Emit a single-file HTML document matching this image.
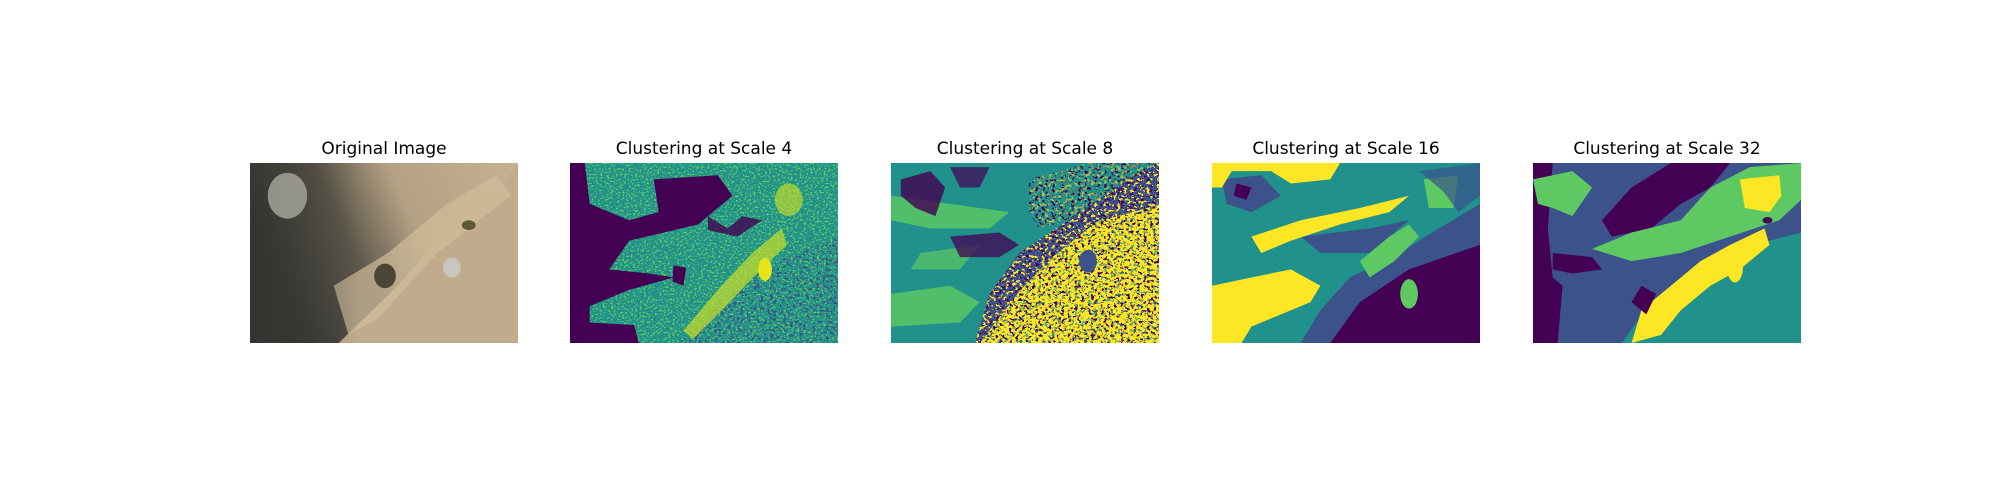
<!DOCTYPE html>
<html><head><meta charset="utf-8"><style>
body{margin:0;background:#fff;width:2000px;height:500px;overflow:hidden;font-family:"Liberation Sans","DejaVu Sans",sans-serif}
.t{position:absolute;top:139px;width:268px;text-align:center;font-size:17px;color:#000;font-family:"DejaVu Sans","Liberation Sans",sans-serif}
svg.p{position:absolute;top:163px;width:268px;height:180px}
</style></head><body>
<svg width="0" height="0" style="position:absolute"><defs>
<filter id="sa" x="0" y="0" width="1" height="1"><feTurbulence type="fractalNoise" baseFrequency="0.45" numOctaves="2" seed="5" result="t"/><feColorMatrix in="t" type="matrix" values="0 0 0 0 0 0 0 0 0 0 0 0 0 0 0 1 0 0 0 0" result="a"/><feComponentTransfer in="a" result="b"><feFuncA type="discrete" tableValues="0 0 0 1 1"/></feComponentTransfer><feComposite in="SourceGraphic" in2="b" operator="in"/></filter>
<filter id="sb" x="0" y="0" width="1" height="1"><feTurbulence type="fractalNoise" baseFrequency="0.5" numOctaves="2" seed="11" result="t"/><feColorMatrix in="t" type="matrix" values="0 0 0 0 0 0 0 0 0 0 0 0 0 0 0 1 0 0 0 0" result="a"/><feComponentTransfer in="a" result="b"><feFuncA type="discrete" tableValues="0 0 0 0 1"/></feComponentTransfer><feComposite in="SourceGraphic" in2="b" operator="in"/></filter>
<filter id="sc" x="0" y="0" width="1" height="1"><feTurbulence type="fractalNoise" baseFrequency="0.4" numOctaves="2" seed="23" result="t"/><feColorMatrix in="t" type="matrix" values="0 0 0 0 0 0 0 0 0 0 0 0 0 0 0 1 0 0 0 0" result="a"/><feComponentTransfer in="a" result="b"><feFuncA type="discrete" tableValues="1 0 0 0 0"/></feComponentTransfer><feComposite in="SourceGraphic" in2="b" operator="in"/></filter>
<filter id="sd" x="0" y="0" width="1" height="1"><feTurbulence type="fractalNoise" baseFrequency="0.3" numOctaves="2" seed="31" result="t"/><feColorMatrix in="t" type="matrix" values="0 0 0 0 0 0 0 0 0 0 0 0 0 0 0 1 0 0 0 0" result="a"/><feComponentTransfer in="a" result="b"><feFuncA type="discrete" tableValues="0 0 0 0 0 0 1 1 1 1"/></feComponentTransfer><feComposite in="SourceGraphic" in2="b" operator="in"/></filter>
<filter id="se" x="0" y="0" width="1" height="1"><feTurbulence type="fractalNoise" baseFrequency="0.3" numOctaves="2" seed="47" result="t"/><feColorMatrix in="t" type="matrix" values="0 0 0 0 0 0 0 0 0 0 0 0 0 0 0 1 0 0 0 0" result="a"/><feComponentTransfer in="a" result="b"><feFuncA type="discrete" tableValues="1 1 1 1 0 0 0 0 0 0"/></feComponentTransfer><feComposite in="SourceGraphic" in2="b" operator="in"/></filter>
</defs></svg>

<div class="t" style="left:250px">Original Image</div>
<svg class="p" style="left:250px" viewBox="0 0 272 220" preserveAspectRatio="none">
<defs><linearGradient id="g1" x1="0" y1="0.3" x2="1" y2="0"><stop offset="0" stop-color="#3c3b37"/><stop offset="0.3" stop-color="#5d574b"/><stop offset="0.55" stop-color="#b4a183"/><stop offset="1" stop-color="#c4b293"/></linearGradient>
<linearGradient id="g2" x1="0" y1="0" x2="1" y2="0"><stop offset="0" stop-color="#2e2f2d" stop-opacity="0.6"/><stop offset="1" stop-color="#2e2f2d" stop-opacity="0"/></linearGradient></defs>
<rect width="272" height="220" fill="url(#g1)"/>
<polygon points="90,220 150,150 200,80 260,20 272,0 272,220" fill="#c0ac8d"/>
<polygon points="85,150 140,110 200,50 250,15 265,40 190,110 130,190 100,210" fill="#d0bd9b" opacity="0.7"/>
<rect x="0" y="0" width="110" height="220" fill="url(#g2)"/>
<ellipse cx="38" cy="40" rx="20" ry="28" fill="#a9a7a0" opacity="0.8"/>
<ellipse cx="205" cy="128" rx="9" ry="12" fill="#c9c6c0"/>
<ellipse cx="137" cy="138" rx="11" ry="15" fill="#4a4536"/>
<ellipse cx="222" cy="76" rx="7" ry="6" fill="#5d5a33"/>
</svg>

<div class="t" style="left:570px">Clustering at Scale 4</div>
<svg class="p" style="left:570px" viewBox="0 0 272 220" preserveAspectRatio="none">
<rect width="272" height="220" fill="#21918c"/>
<rect width="272" height="220" fill="#5ec962" filter="url(#sa)"/>
<polygon points="110,220 190,130 272,90 272,220" fill="#3b528b" filter="url(#sd)"/>
<rect width="272" height="220" fill="#3b528b" filter="url(#sb)" opacity="0.6"/>
<path d="M0,0 H15 L20,50 L60,70 L90,60 L85,20 L150,15 L165,40 L130,75 L60,95 L40,130 L80,135 L105,140 L60,155 L20,175 L20,195 L65,198 L70,220 L0,220 Z" fill="#440154"/>
<path d="M140,65 L160,80 L175,65 L195,70 L170,90 L140,82Z" fill="#440154" opacity="0.8"/>
<path d="M115,205 L150,155 L185,110 L215,80 L220,100 L190,135 L150,185 L125,215Z" fill="#c9df27" opacity="0.7"/>
<ellipse cx="222" cy="45" rx="14" ry="20" fill="#d7e31f" opacity="0.6"/>
<ellipse cx="198" cy="130" rx="7" ry="14" fill="#e7e419"/>
<path d="M105,125 L118,128 L115,150 L104,145Z" fill="#440154"/>
</svg>

<div class="t" style="left:891px">Clustering at Scale 8</div>
<svg class="p" style="left:891px" viewBox="0 0 272 220" preserveAspectRatio="none">
<defs><clipPath id="cy"><polygon points="90,220 131,156 165,114 209,72 272,51 272,220"/></clipPath>
<clipPath id="cn"><polygon points="85,220 100,160 130,110 180,70 240,20 272,0 272,60 209,72 165,114 131,156 100,220"/></clipPath>
<clipPath id="ct"><polygon points="140,20 200,0 272,0 272,10 240,20 180,70 150,80 140,60"/></clipPath></defs>
<rect width="272" height="220" fill="#21918c"/>
<path d="M0,40 L60,50 L120,60 L100,80 L40,80 L0,70Z" fill="#5ec962" opacity="0.8"/>
<path d="M0,160 L60,150 L90,170 L70,195 L0,200Z" fill="#5ec962" opacity="0.8"/>
<path d="M30,110 L90,100 L70,130 L20,130Z" fill="#5ec962" opacity="0.7"/>
<path d="M10,20 L40,10 L55,30 L45,65 L25,55 L10,40Z" fill="#440154" opacity="0.8"/>
<path d="M60,5 L100,5 L90,30 L70,30Z" fill="#440154" opacity="0.7"/>
<path d="M60,90 L110,85 L130,100 L110,115 L70,115Z" fill="#440154" opacity="0.75"/>
<g clip-path="url(#ct)"><rect width="272" height="220" fill="#440154" filter="url(#sd)"/><rect width="272" height="220" fill="#fde725" filter="url(#se)" opacity="0.6"/></g>
<g clip-path="url(#cn)"><rect width="272" height="220" fill="#3b528b"/><rect width="272" height="220" fill="#440154" filter="url(#sd)"/><rect width="272" height="220" fill="#fde725" filter="url(#se)"/></g>
<g clip-path="url(#cy)"><rect width="272" height="220" fill="#fde725"/><rect width="272" height="220" fill="#440154" filter="url(#sd)"/><rect width="272" height="220" fill="#21918c" filter="url(#se)" opacity="0.7"/></g>
<ellipse cx="200" cy="120" rx="9" ry="14" fill="#3b528b"/>
</svg>

<div class="t" style="left:1212px">Clustering at Scale 16</div>
<svg class="p" style="left:1212px" viewBox="0 0 272 220" preserveAspectRatio="none">
<rect width="272" height="220" fill="#21918c"/>
<path d="M90,220 L110,180 L140,140 L190,110 L230,80 L272,50 L272,220Z" fill="#3b528b"/>
<path d="M120,220 L150,170 L200,130 L272,100 L272,220Z" fill="#440154"/>
<path d="M10,20 L50,15 L70,40 L40,60 L15,50Z" fill="#3b528b"/>
<path d="M25,25 L40,30 L35,45 L22,40Z" fill="#440154"/>
<path d="M90,90 L160,80 L200,70 L160,110 L110,110Z" fill="#3b528b"/>
<path d="M0,0 H130 L120,20 L80,25 L60,10 L20,10 L10,30 L0,30Z" fill="#fde725"/>
<path d="M40,90 L90,70 L150,55 L200,40 L180,60 L130,75 L80,95 L50,110Z" fill="#fde725"/>
<path d="M0,150 L40,140 L80,130 L110,150 L100,170 L70,185 L40,200 L30,220 L0,220Z" fill="#fde725"/>
<path d="M150,120 L180,90 L200,75 L210,90 L185,120 L160,140Z" fill="#5ec962"/>
<path d="M215,20 L250,15 L245,55 L220,55Z" fill="#5ec962"/>
<ellipse cx="200" cy="160" rx="9" ry="18" fill="#5ec962"/>
<path d="M210,10 L272,0 L272,40 L250,60 L235,35Z" fill="#3b528b" opacity="0.7"/>
</svg>

<div class="t" style="left:1533px">Clustering at Scale 32</div>
<svg class="p" style="left:1533px" viewBox="0 0 272 220" preserveAspectRatio="none">
<rect width="272" height="220" fill="#3b528b"/>
<path d="M90,220 L120,170 L150,140 L200,110 L240,95 L272,85 L272,220Z" fill="#21918c"/>
<path d="M140,0 L200,0 L180,30 L150,50 L120,80 L80,90 L70,70 L100,30Z" fill="#440154"/>
<path d="M0,0 H20 L15,80 L20,140 L30,150 L25,220 L0,220Z" fill="#440154"/>
<path d="M20,110 L60,115 L70,130 L40,135 L20,130Z" fill="#440154"/>
<path d="M0,20 L40,10 L60,30 L40,65 L20,55 L5,50Z" fill="#5ec962"/>
<path d="M180,30 L220,5 L272,0 L272,45 L250,70 L200,90 L150,110 L100,120 L60,105 L100,85 L150,70Z" fill="#5ec962"/>
<path d="M100,220 L110,180 L140,150 L170,120 L200,100 L235,80 L240,100 L210,130 L180,150 L150,180 L130,210Z" fill="#fde725"/>
<path d="M210,20 L250,15 L252,40 L240,60 L215,55Z" fill="#fde725"/>
<ellipse cx="205" cy="128" rx="8" ry="18" fill="#fde725"/>
<ellipse cx="238" cy="70" rx="5" ry="4" fill="#440154"/>
<path d="M100,170 L110,150 L125,160 L115,185Z" fill="#440154"/>
</svg>
</body></html>
